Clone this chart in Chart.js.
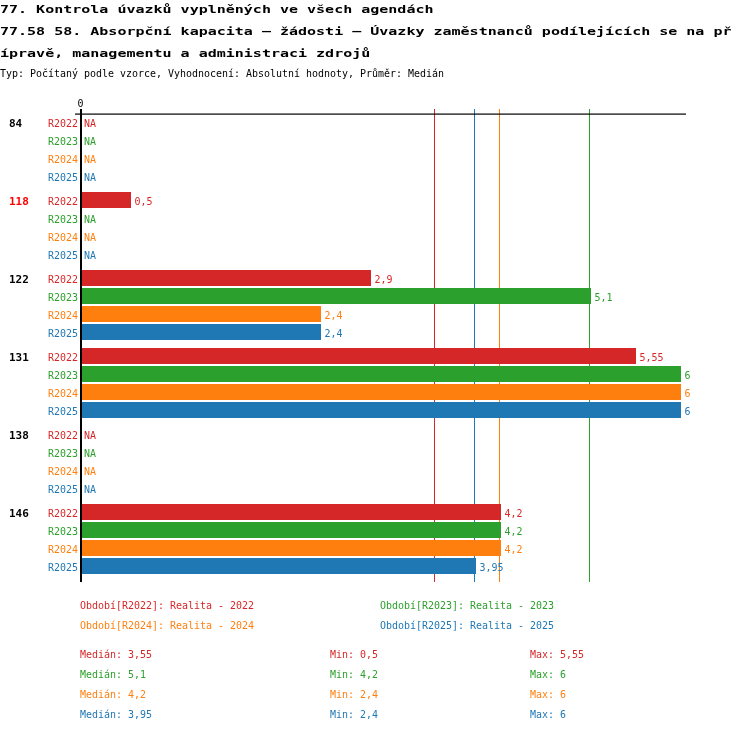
<!DOCTYPE html>
<html>
<head>
<meta charset="utf-8">
<script src="https://cdn.jsdelivr.net/npm/chart.js@4/dist/chart.umd.min.js"></script>
<style>
  html, body { margin: 0; padding: 0; background: #fff; }
  #chart { display: block; }
</style>
</head>
<body>
<canvas id="chart" width="750" height="732"></canvas>
<script>
'use strict';

const groups = ['84', '118', '122', '131', '138', '146'];
const highlighted = ['118'];
const periods = ['R2022', 'R2023', 'R2024', 'R2025'];
const legendNames = ['Realita - 2022', 'Realita - 2023', 'Realita - 2024', 'Realita - 2025'];

const r2022 = [null, 0.5, 2.9, 5.55, null, 4.2];
const r2023 = [null, null, 5.1, 6, null, 4.2];
const r2024 = [null, null, 2.4, 6, null, 4.2];
const r2025 = [null, null, 2.4, 6, null, 3.95];

const medians = [3.55, 5.1, 4.2, 3.95];
const mins = [0.5, 4.2, 2.4, 2.4];
const maxs = [5.55, 6, 6, 6];

const titleLines = [
    '77. Kontrola úvazků vyplněných ve všech agendách',
    '77.58 58. Absorpční kapacita – žádosti – Úvazky zaměstnanců podílejících se na př',
    'ípravě, managementu a administraci zdrojů'
];
const subtitle = 'Typ: Počítaný podle vzorce, Vyhodnocení: Absolutní hodnoty, Průměr: Medián';

const COLORS = ['#d62728', '#2ca02c', '#ff7f0e', '#1f77b4'];
const MONO = '"DejaVu Sans Mono", "Liberation Mono", monospace';
const series = [r2022, r2023, r2024, r2025];

const CAT_PCT = 72 / 78;
const BAR_PCT = 16 / 18;

function fmt(v) {
    return String(v).replace('.', ',');
}

// text in a horizontally squeezed / stretched mono font
function text(ctx, str, x, y, font, sx, align) {
    ctx.save();
    ctx.font = font;
    ctx.textAlign = align || 'left';
    ctx.textBaseline = 'alphabetic';
    ctx.translate(x, y);
    ctx.scale(sx, 1);
    ctx.fillText(str, 0, 0);
    ctx.restore();
}

function small(ctx, str, x, y, align) {
    text(ctx, str, x, y, '11px ' + MONO, 0.906, align);
}

function rowCenter(chart, gi, di) {
    let y = chart.scales.y,
        center = y.getPixelForValue(gi),
        groupH = (y.height / groups.length) * CAT_PCT,
        slot = groupH / periods.length;
    return center - groupH / 2 + slot * (di + 0.5);
}

const medianLines = {
    id: 'medianLines',
    beforeDatasetsDraw(chart) {
        let ctx = chart.ctx, area = chart.chartArea, x = chart.scales.x;
        ctx.save();
        ctx.lineWidth = 1;
        medians.forEach((m, i) => {
            let px = Math.round(x.getPixelForValue(m)) - 1.5;
            ctx.strokeStyle = COLORS[i];
            ctx.beginPath();
            ctx.moveTo(px, area.top - 1);
            ctx.lineTo(px, area.bottom + 4);
            ctx.stroke();
        });
        ctx.restore();
    }
};

const decorations = {
    id: 'decorations',
    afterDraw(chart) {
        let ctx = chart.ctx, area = chart.chartArea, x = chart.scales.x;
        ctx.save();

        // titles
        ctx.fillStyle = '#000';
        titleLines.forEach((t, i) => text(ctx, t, 0, 12.5 + i * 22, 'bold 10px ' + MONO, 1.5));
        small(ctx, subtitle, 0, 76.5);

        // axes
        small(ctx, '0', area.left - 0.5, 107, 'center');
        ctx.fillRect(area.left - 6, area.top + 3.5, area.right - area.left + 6, 1.2);
        ctx.fillRect(area.left - 1, area.top - 1, 2, area.bottom - area.top + 5);

        // row labels and values
        groups.forEach((g, gi) => {
            ctx.fillStyle = highlighted.includes(g) ? '#ff0000' : '#000';
            text(ctx, g, 9, rowCenter(chart, gi, 0) + 5, 'bold 11px ' + MONO, 1);
            series.forEach((s, di) => {
                let cy = rowCenter(chart, gi, di) + 5, v = s[gi];
                ctx.fillStyle = COLORS[di];
                small(ctx, periods[di], area.left - 3, cy, 'right');
                if (v === null) {
                    small(ctx, 'NA', area.left + 3, cy);
                } else {
                    small(ctx, fmt(v), x.getPixelForValue(v) + 3.5, cy);
                }
            });
        });

        // legend
        periods.forEach((p, i) => {
            ctx.fillStyle = COLORS[i];
            small(ctx, 'Období[' + p + ']: ' + legendNames[i], i % 2 ? 380 : 80, 608.5 + Math.floor(i / 2) * 20);
        });

        // stats
        periods.forEach((p, i) => {
            let y = 657.5 + i * 20;
            ctx.fillStyle = COLORS[i];
            small(ctx, 'Medián: ' + fmt(medians[i]), 80, y);
            small(ctx, 'Min: ' + fmt(mins[i]), 330, y);
            small(ctx, 'Max: ' + fmt(maxs[i]), 530, y);
        });
        ctx.restore();
    }
};

let ctx = document.getElementById('chart').getContext('2d');
window.ChartBars = new Chart(ctx, {
    type: 'bar',
    data: {
        labels: groups,
        datasets: periods.map((p, i) => ({
            label: p,
            data: series[i],
            backgroundColor: COLORS[i],
            borderWidth: 0,
            categoryPercentage: CAT_PCT,
            barPercentage: BAR_PCT
        }))
    },
    options: {
        indexAxis: 'y',
        responsive: false,
        devicePixelRatio: 1,
        animation: false,
        layout: {padding: {left: 81, top: 110, right: 64, bottom: 154}},
        scales: {
            x: {display: false, min: 0, max: 6.05},
            y: {display: false}
        },
        plugins: {
            legend: {display: false},
            tooltip: {enabled: false}
        }
    },
    plugins: [medianLines, decorations]
});
</script>
</body>
</html>
